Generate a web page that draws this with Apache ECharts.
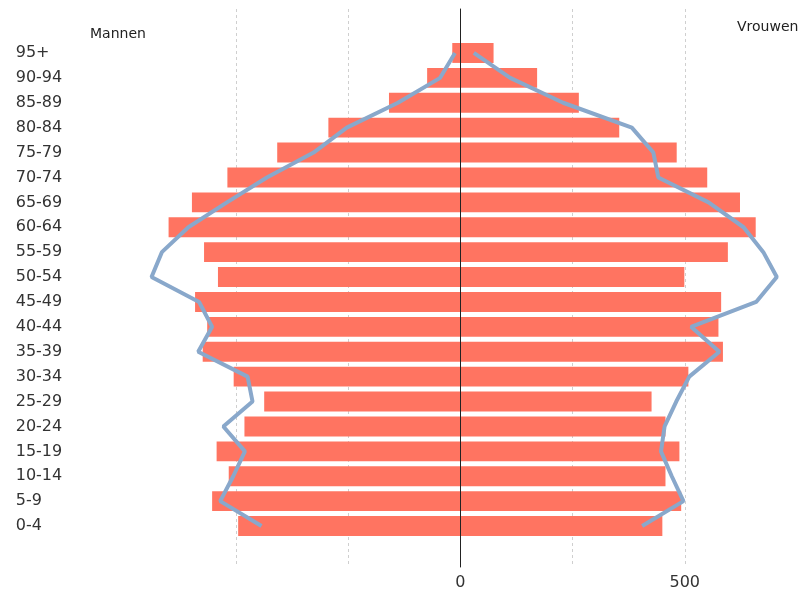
<!DOCTYPE html>
<html>
<head>
<meta charset="utf-8">
<script src="https://cdn.jsdelivr.net/npm/echarts@6/dist/echarts.min.js"></script>
<style>html,body{margin:0;padding:0;background:#fff}#c{width:802px;height:591px}</style>
</head>
<body>
<div id="c"></div>
<script>
var ages = ['0-4','5-9','10-14','15-19','20-24','25-29','30-34','35-39','40-44','45-49','50-54','55-59','60-64','65-69','70-74','75-79','80-84','85-89','90-94','95+'];
var menBars   = [495,553,516,543,481,437,505,574,564,591,540,571,650,598,519,408,294,159,74,18];
var womenBars = [450,492,457,488,457,426,508,585,575,581,499,596,658,623,550,482,354,264,171,74];
var menLine   = [443,535,506,480,528,463,474,584,553,582,688,665,606,520,431,327,253,139,45,12];
var womenLine = [405,497,471,447,455,481,510,577,514,659,705,675,631,553,441,430,382,229,111,30];
var xTickLabels = [0, 500];

var font = 'DejaVu Sans';
var chart = echarts.init(document.getElementById('c'), null, {renderer:'canvas'});
var GL = 123.7, GR = 5;
chart.setOption({
  animation: false,
  backgroundColor: '#fff',
  textStyle: {fontFamily: font},
  graphic: [
    {type:'text', x:90, y:34, style:{text:'Mannen', font:'14px "DejaVu Sans"', fill:'#222', textVerticalAlign:'middle'}},
    {type:'text', x:737, y:27, style:{text:'Vrouwen', font:'14px "DejaVu Sans"', fill:'#222', textVerticalAlign:'middle'}}
  ],
  grid: [
    {left: GL, right: GR, top: 9, bottom: 23},
    {left: GL, right: GR, top: 40.5, bottom: 52.5}
  ],
  xAxis: [
    {type:'value', gridIndex:0, min:-750, max:750, interval:250,
     axisLine:{show:false}, axisTick:{show:false},
     axisLabel:{fontSize:16, color:'#333', fontFamily:font, margin:8,
       formatter:function(v){ return xTickLabels.indexOf(v) >= 0 ? String(v) : ''; }},
     splitLine:{show:true, showMinLine:false, showMaxLine:false, lineStyle:{color:'#cfcfcf', type:[3,3], width:1}}},
    {type:'value', gridIndex:1, min:-750, max:750, show:false, splitLine:{show:false}}
  ],
  yAxis: [
    {type:'value', gridIndex:0, min:0, max:1, z:3,
     axisLine:{show:true, onZero:true, lineStyle:{color:'#222', width:1}},
     axisTick:{show:false}, axisLabel:{show:false}, splitLine:{show:false}},
    {type:'category', gridIndex:1, data:ages, boundaryGap:true,
     axisLine:{show:false}, axisTick:{show:false}, splitLine:{show:false},
     axisLabel:{align:'left', margin:108, fontSize:16, color:'#333', fontFamily:font}}
  ],
  series: [
    {type:'bar', name:'Mannen', xAxisIndex:1, yAxisIndex:1, stack:'p', barCategoryGap:'20%',
     itemStyle:{color:'#FF7461'}, data: menBars.map(function(v){return -v;}), z:2},
    {type:'bar', name:'Vrouwen', xAxisIndex:1, yAxisIndex:1, stack:'p', barCategoryGap:'20%',
     itemStyle:{color:'#FF7461'}, data: womenBars, z:2},
    {type:'line', xAxisIndex:1, yAxisIndex:1, symbol:'none', z:5,
     lineStyle:{color:'#89A8CB', width:4}, data: menLine.map(function(v){return -v;})},
    {type:'line', xAxisIndex:1, yAxisIndex:1, symbol:'none', z:5,
     lineStyle:{color:'#89A8CB', width:4}, data: womenLine}
  ]
});
</script>
</body>
</html>
